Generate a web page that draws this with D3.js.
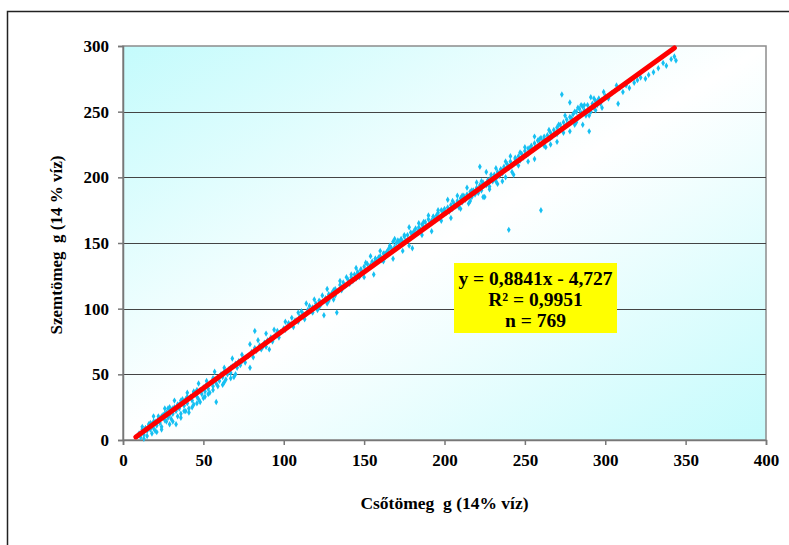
<!DOCTYPE html>
<html>
<head>
<meta charset="utf-8">
<script src="https://cdn.jsdelivr.net/npm/d3@7"></script>
<style>
  html, body { margin: 0; padding: 0; background: #fff; }
  svg { display: block; }
  text { font-family: "Liberation Serif", "Times New Roman", serif; font-weight: bold; white-space: pre; }
</style>
</head>
<body>
<svg id="chart" width="789" height="545"></svg>
<script>
// ---- data ----
const xTicks = [0, 50, 100, 150, 200, 250, 300, 350, 400];
const yTicks = [0, 50, 100, 150, 200, 250, 300];
const xTitle = "Csőtömeg  g (14% víz)";
const yTitle = "Szemtömeg  g (14 % víz)";
const trendSlope = 0.8841;
const trendIntercept = -4.727;
const trendRange = [8, 343];
const statLines = ["y = 0,8841x - 4,727", "R² = 0,9951", "n = 769"];

// observed samples: csőtömeg (x) and szemtömeg (y)
const csoTomeg = [
  9,10,11,12,13,14,15,15,16,17,18,19,20,20,21,22,23,24,24,25,26,27,28,29,30,30,31,32,33,33,34,35,36,37,38,38,39,40,41,42,43,44,45,46,47,48,49,50,50,51,52,53,54,55,56,57,58,58,59,60,61,62,63,64,65,66,67,68,69,70,71,72,73,75,76,78,79,80,81,82,82,83,85,86,88,89,90,91,92,93,95,96,97,98,100,102,103,104,105,106,108,110,111,112,113,115,116,117,118,120,121,122,123,124,125,126,127,128,129,130,131,132,133,134,135,136,137,138,140,141,142,143,144,145,146,147,148,149,150,151,152,153,154,155,156,157,158,159,160,161,162,163,164,165,166,167,168,169,170,171,172,173,174,175,176,177,178,179,180,181,182,183,184,185,186,187,188,189,190,191,192,193,194,195,196,197,198,199,200,201,202,203,204,205,206,207,208,209,210,211,212,213,214,215,216,217,218,219,220,221,222,222,223,224,225,226,227,228,229,230,231,232,233,233,234,235,236,237,238,239,240,240,241,242,243,244,245,246,247,248,249,250,251,252,253,254,255,256,257,258,259,260,260,261,262,263,264,265,266,267,268,269,270,271,272,273,273,274,275,276,277,278,278,279,280,281,282,283,284,285,286,287,288,289,290,290,291,292,293,294,295,296,297,298,300,302,304,306,308,309,311,313,315,318,320,322,325,327,330,333,336,338,341,343,344,
  12,14,17,19,22,26,28,31,35,37,40,44,46,52,56,63,67,74,87,94,101,109,114,139,146,157,184,194,203,211,218,226,231,236,243,247,252,256,262,266,270,276,283,287,293,
  13,18,21,24,27,29,31,34,36,39,41,43,46,48,51,53,56,59,62,64,67,70,
  12,16,19,22,26,29,32,36,40,44,47,52,57,63,68,74,79,84,89,94,
  101,105,109,114,119,123,127,131,135,139,107,113,118,122,128,132,136,
  142,145,148,151,154,157,160,163,166,169,172,175,178,181,184,187,190,193,196,199,202,205,208,211,214,217,220,223,226,229,232,235,238,241,244,247,250,253,256,259,262,265,
  150,156,162,168,174,180,186,192,198,204,210,216,224,228,232,236,242,246,252,256,262,266,270,274,278,282,286,290,294,298,
  271,275,279,283,287,291,295,299,303,307,281,285,289,293,297
];
const szemTomeg = [
  3,5,2,6,4,9,7,3,10,8,12,9,14,7,11,16,13,18,10,19,15,21,17,19,23,16,20,25,12,22,27,24,20,29,26,22,31,28,24,33,30,27,36,33,31,38,35,32,40,37,42,39,36,44,41,46,29,43,47,45,50,48,44,52,50,54,51,56,48,58,55,60,57,62,59,64,55,67,63,83,70,68,72,69,74,71,76,69,78,75,80,83,78,82,85,86,89,88,93,86,91,94,98,96,92,99,102,98,101,104,99,106,103,110,95,108,104,111,109,112,107,115,97,114,118,116,120,117,122,119,124,121,126,123,128,124,130,127,132,129,134,131,133,136,134,138,136,139,140,137,142,139,143,145,148,146,151,147,150,152,149,153,151,155,152,156,148,158,157,159,161,158,162,160,164,162,166,163,168,165,167,170,168,171,173,169,175,172,176,173,177,174,179,176,180,178,182,177,184,181,186,183,187,180,189,185,190,187,192,188,208,194,190,196,185,195,198,193,200,197,202,199,204,195,201,206,203,208,200,210,160,207,212,209,202,214,211,216,213,218,215,220,217,222,219,224,221,226,223,228,225,175,230,227,229,223,232,229,234,231,236,233,238,235,240,263,237,242,239,244,241,257,246,243,248,240,250,246,252,249,254,251,247,255,235,252,250,256,253,258,255,260,257,259,262,260,264,266,256,268,265,270,268,272,274,276,275,278,280,283,287,285,290,292,289,
  8,9,13,14,15,20,24,24,27,31,33,36,38,42,47,52,55,60,71,78,84,90,96,118,127,136,160,167,175,183,189,194,200,205,210,213,218,222,226,230,233,240,245,249,254,
  1,5,6,8,14,12,14,18,17,22,21,25,28,29,33,35,38,41,42,46,47,50,
  10,12,18,18,24,25,30,30,36,37,43,45,52,55,62,65,73,76,81,84,
  90,88,97,104,107,105,115,114,121,124,91,95,97,101,106,110,114,
  126,131,129,135,140,138,144,142,147,153,151,156,162,158,165,166,171,170,175,174,183,182,186,186,192,190,196,197,204,202,207,206,212,216,215,219,223,222,231,229,231,236,
  124,126,136,138,144,146,156,159,167,169,176,182,185,191,197,197,204,209,212,214,224,225,227,234,235,242,240,247,251,253,
  240,247,245,253,255,261,258,265,263,270,250,255,250,260,256
];

// ---- layout ----
const svg = d3.select("#chart");
const plot = { left: 123, top: 46, right: 766, bottom: 440 };

const x = d3.scaleLinear().domain([0, 400]).range([plot.left, plot.right]);
const y = d3.scaleLinear().domain([0, 300]).range([plot.bottom, plot.top]);

// outer frame
svg.append("rect")
  .attr("x", 7.5).attr("y", 11.5)
  .attr("width", 820).attr("height", 600)
  .attr("fill", "#fff")
  .attr("stroke", "#222").attr("stroke-width", 1.5);

// gradient
const defs = svg.append("defs");
const grad = defs.append("linearGradient")
  .attr("id", "bg").attr("x1", "0").attr("y1", "0").attr("x2", "1").attr("y2", "1");
grad.append("stop").attr("offset", "0%").attr("stop-color", "#c4fbfc");
grad.append("stop").attr("offset", "50%").attr("stop-color", "#ffffff");
grad.append("stop").attr("offset", "100%").attr("stop-color", "#c4fbfc");

svg.append("rect")
  .attr("x", plot.left).attr("y", plot.top)
  .attr("width", plot.right - plot.left).attr("height", plot.bottom - plot.top)
  .attr("fill", "url(#bg)")
  .attr("stroke", "#8c8c8c").attr("stroke-width", 1.5);

// gridlines
svg.append("g").selectAll("line")
  .data(yTicks.filter(d => d > 0 && d < 300))
  .join("line")
  .attr("x1", plot.left).attr("x2", plot.right)
  .attr("y1", d => Math.round(y(d)) + 0.5).attr("y2", d => Math.round(y(d)) + 0.5)
  .attr("stroke", "#444").attr("stroke-width", 1.2);

// axes
const xAxis = d3.axisBottom(x).tickValues(xTicks).tickSize(5).tickPadding(9).tickFormat(d3.format("d"));
const yAxis = d3.axisLeft(y).tickValues(yTicks).tickSize(5).tickPadding(9).tickFormat(d3.format("d"));

const gx = svg.append("g").attr("transform", `translate(0,${plot.bottom})`).call(xAxis);
const gy = svg.append("g").attr("transform", `translate(${plot.left},0)`).call(yAxis);
[gx, gy].forEach(g => {
  g.select(".domain").attr("stroke", "#777").attr("stroke-width", 1.5);
  g.selectAll(".tick line").attr("stroke", "#777").attr("stroke-width", 1.5);
  g.selectAll(".tick text")
    .attr("fill", "#000")
    .style("font-family", '"Liberation Serif", "Times New Roman", serif')
    .style("font-weight", "bold")
    .style("font-size", "17px");
});

// points
const pts = csoTomeg.map((v, i) => [v, szemTomeg[i]]);
const sym = d3.symbol().type(d3.symbolDiamond).size(12);
svg.append("g").selectAll("path")
  .data(pts)
  .join("path")
  .attr("d", sym)
  .attr("transform", d => `translate(${x(d[0])},${y(d[1])})`)
  .attr("fill", "#16c0f2");

// trend line
const trend = trendRange.map(v => [v, trendSlope * v + trendIntercept]);
svg.append("path")
  .datum(trend)
  .attr("d", d3.line().x(d => x(d[0])).y(d => y(d[1])))
  .attr("stroke", "#ff0000").attr("stroke-width", 5)
  .attr("stroke-linecap", "round").attr("fill", "none");

// statistics box
svg.append("rect")
  .attr("x", 454).attr("y", 263).attr("width", 163).attr("height", 70)
  .attr("fill", "#ffff00");
const st = svg.append("text")
  .attr("text-anchor", "middle")
  .style("font-size", "19.5px")
  .attr("fill", "#000");
statLines.forEach((line, i) => {
  st.append("tspan")
    .attr("x", 535.5)
    .attr("y", 285 + i * 21)
    .text(line);
});

// axis titles
svg.append("text")
  .attr("x", x(200)).attr("y", 509)
  .attr("text-anchor", "middle")
  .style("font-size", "17.5px")
  .text(xTitle);

svg.append("text")
  .attr("transform", `translate(62,${(plot.top + plot.bottom) / 2 + 2}) rotate(-90)`)
  .attr("text-anchor", "middle")
  .style("font-size", "17px")
  .text(yTitle);
</script>
</body>
</html>
